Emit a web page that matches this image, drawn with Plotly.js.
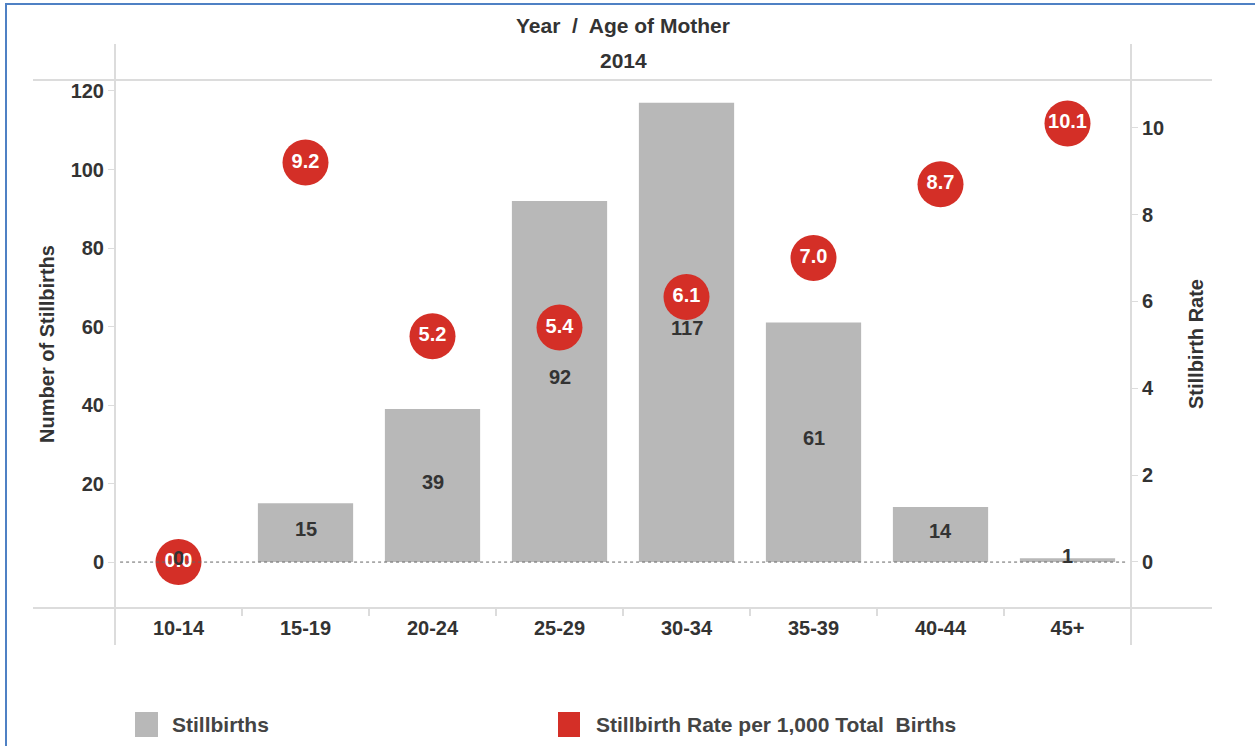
<!DOCTYPE html>
<html>
<head>
<meta charset="utf-8">
<script src="https://cdn.plot.ly/plotly-3.0.1.min.js"></script>
<style>
  html, body { margin: 0; padding: 0; background: #fff; }
  #wrap { position: relative; width: 1255px; height: 746px; overflow: hidden; }
  #chart { width: 1255px; height: 746px; }
  #frame { position: absolute; left: 5px; top: 3px; right: -10px; bottom: -10px;
           border-left: 2px solid #4f81c4; border-top: 2px solid #4f81c4; pointer-events: none; }
</style>
</head>
<body>
<div id="wrap">
  <div id="chart"></div>
  <div id="frame"></div>
</div>
<script>
// ---- data ----
const categories = ['10-14', '15-19', '20-24', '25-29', '30-34', '35-39', '40-44', '45+'];
const stillbirths = [0, 15, 39, 92, 117, 61, 14, 1];
const stillbirthRates = [0.0, 9.2, 5.2, 5.4, 6.1, 7.0, 8.7, 10.1];
const leftTickValues = [0, 20, 40, 60, 80, 100, 120];
const rightTickValues = [0, 2, 4, 6, 8, 10];
const headerTitle = 'Year  /  Age of Mother';
const headerYear = '2014';
const leftAxisTitle = 'Number of Stillbirths';
const rightAxisTitle = 'Stillbirth Rate';
const legendLabels = ['Stillbirths', 'Stillbirth Rate per 1,000 Total  Births'];

// ---- style ----
const FONT = 'Liberation Sans, Arial, sans-serif';
const TXT = '#333333';
const GRID = '#dcdcdc';
const BAR = '#b8b8b8';
const RED = '#d42f27';

const barTrace = {
  type: 'bar', x: categories, y: stillbirths, yaxis: 'y',
  width: 0.75, marker: { color: BAR }, hoverinfo: 'x+y', showlegend: false
};

const rateTrace = {
  type: 'scatter', mode: 'markers+text', x: categories, y: stillbirthRates, yaxis: 'y2',
  text: stillbirthRates.map(v => v.toFixed(1)), textposition: 'middle center',
  textfont: { family: FONT, size: 20, color: '#ffffff', weight: 'bold' },
  marker: { size: 46, color: RED, line: { width: 0 } },
  cliponaxis: false, showlegend: false
};

// bar value labels at mid-height of each bar (annotations so they sit on top)
const barLabels = categories.map((c, i) => ({
  x: c, y: stillbirths[i] / 2, xref: 'x', yref: 'y', yshift: 4, text: String(stillbirths[i]),
  showarrow: false, font: { family: FONT, size: 20, color: TXT, weight: 'bold' }
}));

const annotations = barLabels.concat([
  { xref: 'paper', yref: 'paper', x: 0.5, y: 1.104, text: headerTitle, showarrow: false,
    yanchor: 'middle', font: { family: FONT, size: 21, color: TXT, weight: 'bold' } },
  { xref: 'paper', yref: 'paper', x: 0.5, y: 1.036, text: headerYear, showarrow: false,
    yanchor: 'middle', font: { family: FONT, size: 21, color: TXT, weight: 'bold' } },
  { xref: 'paper', yref: 'paper', x: 0.0541, y: -0.2197, text: legendLabels[0], showarrow: false,
    xanchor: 'left', yanchor: 'middle', font: { family: FONT, size: 21, color: '#444', weight: 'bold' } },
  { xref: 'paper', yref: 'paper', x: 0.4715, y: -0.2197, text: legendLabels[1], showarrow: false,
    xanchor: 'left', yanchor: 'middle', font: { family: FONT, size: 21, color: '#444', weight: 'bold' } }
]);

const shapes = [
  // horizontal frame lines (top / bottom of plot)
  { type: 'line', xref: 'paper', yref: 'paper', x0: -0.0807, x1: 1.0797, y0: 1, y1: 1, line: { color: GRID, width: 2 } },
  { type: 'line', xref: 'paper', yref: 'paper', x0: -0.0807, x1: 1.0797, y0: 0, y1: 0, line: { color: GRID, width: 2 } },
  // vertical frame lines (left / right of plot)
  { type: 'line', xref: 'paper', yref: 'paper', x0: 0, x1: 0, y0: -0.070, y1: 1.068, line: { color: GRID, width: 2 } },
  { type: 'line', xref: 'paper', yref: 'paper', x0: 1, x1: 1, y0: -0.070, y1: 1.068, line: { color: GRID, width: 2 } },
  // dotted zero line
  { type: 'line', xref: 'paper', yref: 'y', x0: 0.005, x1: 0.995, y0: 0, y1: 0, layer: 'above',
    line: { color: '#666', width: 1, dash: 'dot' } },
  // legend swatches
  { type: 'rect', xref: 'paper', yref: 'paper', x0: 0.0197, x1: 0.0423, y0: -0.2443, y1: -0.197,
    fillcolor: BAR, line: { width: 0 } },
  { type: 'rect', xref: 'paper', yref: 'paper', x0: 0.436, x1: 0.4577, y0: -0.2443, y1: -0.197,
    fillcolor: RED, line: { width: 0 } }
];

const tickFont = { family: FONT, size: 20, color: TXT, weight: 'bold' };

const layout = {
  width: 1255, height: 746,
  margin: { l: 115, r: 124, t: 80, b: 138, pad: 0 },
  paper_bgcolor: '#ffffff', plot_bgcolor: '#ffffff',
  showlegend: false,
  bargap: 0.25,
  xaxis: {
    type: 'category', range: [-0.5, 7.5], showgrid: false, zeroline: false, showline: false,
    ticks: 'outside', tickson: 'boundaries', ticklen: 7, tickcolor: GRID, tickwidth: 2,
    ticklabelstandoff: 6, tickfont: tickFont, fixedrange: true
  },
  yaxis: {
    range: [-11.7, 122.8], tickvals: leftTickValues, showgrid: false, zeroline: false, showline: false,
    ticks: 'outside', ticklen: 6, tickcolor: GRID, tickwidth: 1, tickfont: tickFont,
    title: { text: leftAxisTitle, font: { family: FONT, size: 20, color: TXT, weight: 'bold' }, standoff: 10 },
    fixedrange: true
  },
  yaxis2: {
    overlaying: 'y', side: 'right', range: [-1.06, 11.1], tickvals: rightTickValues,
    showgrid: false, zeroline: false, showline: false,
    ticks: 'outside', ticklen: 6, tickcolor: GRID, tickwidth: 1, tickfont: tickFont,
    title: { text: rightAxisTitle, font: { family: FONT, size: 20, color: TXT, weight: 'bold' }, standoff: 25 },
    fixedrange: true
  },
  shapes: shapes,
  annotations: annotations
};

Plotly.newPlot('chart', [barTrace, rateTrace], layout, { displayModeBar: false, staticPlot: true });
</script>
</body>
</html>
